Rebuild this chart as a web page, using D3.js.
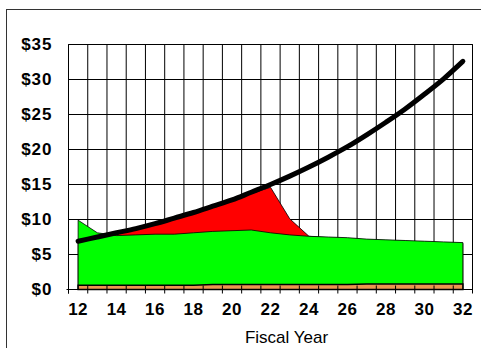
<!DOCTYPE html>
<html>
<head>
<meta charset="utf-8">
<script src="https://cdn.jsdelivr.net/npm/d3@7/dist/d3.min.js"></script>
<style>
  html, body { margin: 0; padding: 0; background: #fff; }
  svg { display: block; }
  text { font-family: Arial, "Liberation Sans", sans-serif; }
</style>
</head>
<body>
<svg id="chart" width="481" height="348"></svg>
<script>
// Fiscal years (two-digit) shown along the category axis
const fiscalYears = [12, 13, 14, 15, 16, 17, 18, 19, 20, 21, 22, 23, 24, 25, 26, 27, 28, 29, 30, 31, 32];
// Thick black trend line ($)
const lineValues = [6.9, 7.5, 8.1, 8.7, 9.4, 10.2, 11.0, 11.9, 12.8, 13.9, 15.0, 16.2, 17.5, 18.9, 20.4, 22.1, 23.9, 25.8, 27.9, 30.1, 32.6];
// Red area, drawn behind the green area ($)
const redValues = [6.9, 7.5, 8.0, 8.6, 9.3, 10.1, 10.9, 11.8, 12.7, 13.7, 14.6, 10.1, 7.6, 7.4, 7.3, 7.1, 7.0, 6.9, 6.8, 6.7, 6.6];
// Green area total ($)
const greenValues = [9.9, 8.1, 7.7, 7.8, 7.9, 7.9, 8.1, 8.3, 8.4, 8.5, 8.1, 7.8, 7.6, 7.5, 7.4, 7.2, 7.1, 7.0, 6.9, 6.8, 6.7];
// Orange base band ($)
const orangeValues = [0.6, 0.6, 0.6, 0.6, 0.6, 0.6, 0.6, 0.7, 0.7, 0.7, 0.7, 0.7, 0.7, 0.7, 0.7, 0.8, 0.8, 0.8, 0.8, 0.8, 0.8];
// Value axis ticks
const yTicks = [0, 5, 10, 15, 20, 25, 30, 35];
// Labelled years on the category axis
const xLabelYears = [12, 14, 16, 18, 20, 22, 24, 26, 28, 30, 32];

const svg = d3.select("#chart");
const plot = { left: 68.5, right: 472.5, top: 44.5, bottom: 289.5 };

// Outer chart frame (extends past the right and bottom edges)
svg.append("rect")
  .attr("x", 6.5).attr("y", 9.5)
  .attr("width", 500).attr("height", 360)
  .attr("fill", "#fff").attr("stroke", "#333").attr("stroke-width", 1);

const x = d3.scaleBand().domain(fiscalYears).range([plot.left, plot.right]).padding(0);
const xb = d3.scaleLinear().domain([11.5, 32.5]).range([plot.left, plot.right]);
const y = d3.scaleLinear().domain([0, 35]).range([plot.bottom, plot.top]);
const cx = d => x(d) + x.bandwidth() / 2;

const boundaries = d3.range(11.5, 33, 1);

// Grid
const grid = svg.append("g");
grid.selectAll("line.v").data(boundaries).join("line")
  .attr("class", "v")
  .attr("x1", d => xb(d)).attr("x2", d => xb(d))
  .attr("y1", plot.top).attr("y2", plot.bottom)
  .attr("stroke", "#000").attr("stroke-width", 1);
grid.selectAll("line.h").data(yTicks).join("line")
  .attr("class", "h")
  .attr("x1", plot.left).attr("x2", plot.right)
  .attr("y1", d => y(d)).attr("y2", d => y(d))
  .attr("stroke", "#000").attr("stroke-width", 1);

const rows = fiscalYears.map((yr, i) => ({
  yr, line: lineValues[i], red: redValues[i], green: greenValues[i], orange: orangeValues[i]
}));

const areaOf = key => d3.area()
  .x(d => cx(d.yr))
  .y0(y(0))
  .y1(d => y(d[key]));

// Red area
svg.append("path").datum(rows)
  .attr("d", areaOf("red"))
  .attr("fill", "#ff0000").attr("stroke", "#000").attr("stroke-width", 0.8)
  .attr("stroke-linejoin", "round");

// Green area
svg.append("path").datum(rows)
  .attr("d", areaOf("green"))
  .attr("fill", "#00ff00").attr("stroke", "#000").attr("stroke-width", 0.8)
  .attr("stroke-linejoin", "round");

// Orange base band
svg.append("path").datum(rows)
  .attr("d", areaOf("orange"))
  .attr("fill", "#eb9650").attr("stroke", "#000").attr("stroke-width", 1.5);

// Axis lines and crossing tick marks
const axisG = svg.append("g");
axisG.append("line")
  .attr("x1", plot.left - 2).attr("x2", plot.right)
  .attr("y1", plot.bottom).attr("y2", plot.bottom)
  .attr("stroke", "#000");
axisG.append("line")
  .attr("x1", plot.left).attr("x2", plot.left)
  .attr("y1", plot.top).attr("y2", plot.bottom + 4)
  .attr("stroke", "#000");
axisG.selectAll("line.tick").data(boundaries).join("line")
  .attr("class", "tick")
  .attr("x1", d => xb(d)).attr("x2", d => xb(d))
  .attr("y1", plot.bottom - 4).attr("y2", plot.bottom + 4)
  .attr("stroke", "#000");

// Plot area border (top and right)
svg.append("path")
  .attr("d", `M${plot.left},${plot.top}H${plot.right}V${plot.bottom}`)
  .attr("fill", "none").attr("stroke", "#000");

// Thick black trend line
svg.append("path").datum(rows)
  .attr("d", d3.line().x(d => cx(d.yr)).y(d => y(d.line)).curve(d3.curveMonotoneX))
  .attr("fill", "none").attr("stroke", "#000").attr("stroke-width", 5)
  .attr("stroke-linecap", "round").attr("stroke-linejoin", "round");

// Value axis labels
const yAxis = d3.axisLeft(y).tickValues(yTicks).tickFormat(d => "$" + d).tickSize(0).tickPadding(16);
svg.append("g").attr("transform", `translate(${plot.left},0)`).call(yAxis)
  .call(g => g.select(".domain").remove())
  .call(g => g.selectAll("text")
    .attr("font-family", "Arial, 'Liberation Sans', sans-serif")
    .attr("font-size", 17).attr("font-weight", "bold").attr("fill", "#000")
    .attr("letter-spacing", 1));

// Category axis labels
const xAxis = d3.axisBottom(x).tickValues(xLabelYears).tickSize(0).tickPadding(13.5);
svg.append("g").attr("transform", `translate(0,${plot.bottom})`).call(xAxis)
  .call(g => g.select(".domain").remove())
  .call(g => g.selectAll("text")
    .attr("font-family", "Arial, 'Liberation Sans', sans-serif")
    .attr("font-size", 17).attr("font-weight", "bold").attr("fill", "#000")
    .attr("letter-spacing", 0.5));

// Axis title
svg.append("text")
  .attr("x", 286.5).attr("y", 343)
  .attr("text-anchor", "middle")
  .attr("font-size", 17).attr("fill", "#000")
  .text("Fiscal Year");
</script>
</body>
</html>
